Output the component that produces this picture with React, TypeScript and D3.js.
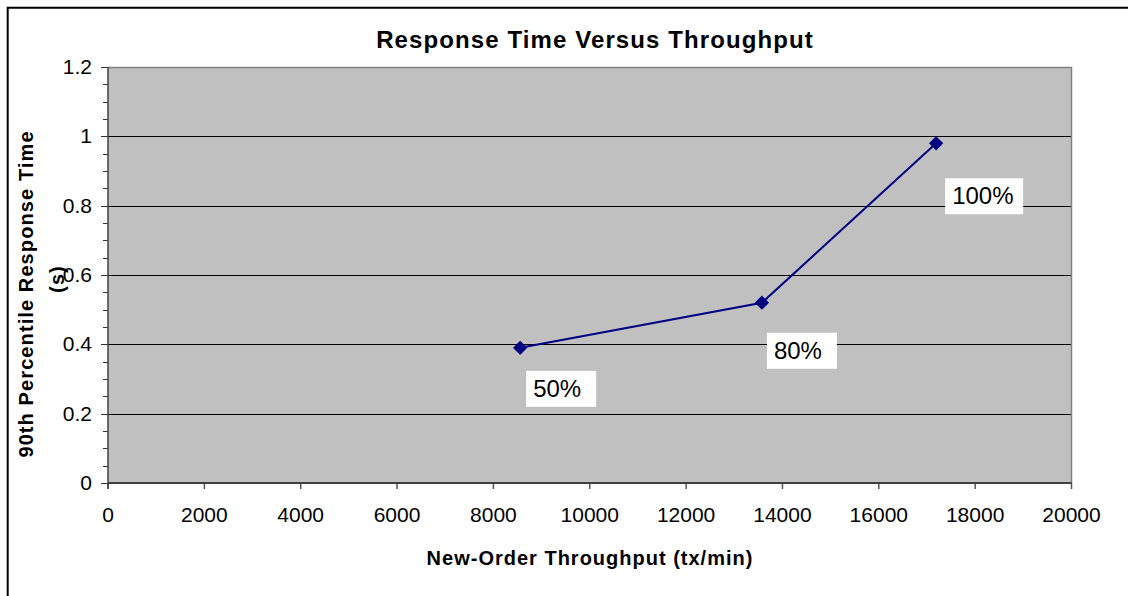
// @ts-nocheck
import * as d3 from "d3"
import { useEffect, useRef } from "react"
import * as React from "react"

const throughput = [8555, 13574, 17190]
const responseTime = [0.39, 0.52, 0.98]
const pointLabels = ["50%", "80%", "100%"]
const xTicks = [0, 2000, 4000, 6000, 8000, 10000, 12000, 14000, 16000, 18000, 20000]
const yTicks = [0, 0.2, 0.4, 0.6, 0.8, 1, 1.2]

// label box offsets relative to each point (layout, not data)
const labelOffsets = [[6, 23], [5, 30], [9, 35]]

const W = 1129
const H = 596
const plot = { left: 108, right: 1071.5, top: 67, bottom: 483 }
const FONT = "Arial, 'Liberation Sans', sans-serif"

function buildSVG(node: SVGSVGElement) {
  const svg = d3.select(node)
  svg.selectAll("*").remove()

  const x = d3.scaleLinear().domain([0, 20000]).range([plot.left, plot.right])
  const y = d3.scaleLinear().domain([0, 1.2]).range([plot.bottom, plot.top])

  svg.append("rect").attr("width", W).attr("height", H).attr("fill", "#fff")

  // outer chart border (only top/left visible in the frame)
  svg.append("path")
    .attr("d", `M7.7,${H}V7.7H${W - 1}`)
    .attr("fill", "none").attr("stroke", "#000").attr("stroke-width", 2)

  svg.append("rect")
    .attr("x", plot.left).attr("y", plot.top)
    .attr("width", plot.right - plot.left).attr("height", plot.bottom - plot.top)
    .attr("fill", "#c0c0c0")

  // gridlines
  svg.append("g").selectAll("line")
    .data(yTicks.filter(t => t > 0 && t < 1.2))
    .join("line")
    .attr("x1", plot.left).attr("x2", plot.right)
    .attr("y1", d => Math.round(y(d)) + 0.5).attr("y2", d => Math.round(y(d)) + 0.5)
    .attr("stroke", "#000").attr("stroke-width", 1)

  // plot border top/right
  svg.append("path")
    .attr("d", `M${plot.left},${plot.top + 0.5}H${plot.right}V${plot.bottom}`)
    .attr("fill", "none").attr("stroke", "#808080").attr("stroke-width", 1.5)

  // y axis ticks (major + minor)
  const minor = d3.range(0, 1.2001, 0.05)
  svg.append("g").selectAll("line")
    .data(minor)
    .join("line")
    .attr("x1", d => (Math.abs(d * 5 - Math.round(d * 5)) < 1e-6 ? plot.left - 7 : plot.left - 5))
    .attr("x2", plot.left)
    .attr("y1", d => Math.round(y(d)) + 0.5).attr("y2", d => Math.round(y(d)) + 0.5)
    .attr("stroke", "#333").attr("stroke-width", 1)

  svg.append("g").selectAll("text")
    .data(yTicks)
    .join("text")
    .attr("x", 92).attr("y", d => y(d) + 7)
    .attr("text-anchor", "end")
    .style("font-family", FONT).style("font-size", "21px").attr("fill", "#000")
    .text(d => d3.format("~g")(d))

  // x axis
  svg.append("g").selectAll("line")
    .data(xTicks)
    .join("line")
    .attr("x1", d => x(d)).attr("x2", d => x(d))
    .attr("y1", plot.bottom).attr("y2", plot.bottom + 6)
    .attr("stroke", "#555").attr("stroke-width", 1.5)

  svg.append("g").selectAll("text")
    .data(xTicks)
    .join("text")
    .attr("x", d => x(d)).attr("y", 522)
    .attr("text-anchor", "middle")
    .style("font-family", FONT).style("font-size", "21px").attr("fill", "#000")
    .text(d => String(d))

  svg.append("line")
    .attr("x1", plot.left).attr("x2", plot.left)
    .attr("y1", plot.top).attr("y2", plot.bottom + 6)
    .attr("stroke", "#404040").attr("stroke-width", 1.5)
  svg.append("line")
    .attr("x1", plot.left).attr("x2", plot.right)
    .attr("y1", plot.bottom).attr("y2", plot.bottom)
    .attr("stroke", "#404040").attr("stroke-width", 2)

  // series
  const pts = throughput.map((t, i) => [t, responseTime[i]])
  svg.append("path")
    .datum(pts)
    .attr("d", d3.line().x(d => x(d[0])).y(d => y(d[1])))
    .attr("fill", "none").attr("stroke", "#000080").attr("stroke-width", 2)

  svg.append("g").selectAll("path")
    .data(pts)
    .join("path")
    .attr("transform", d => `translate(${x(d[0])},${y(d[1])})`)
    .attr("d", d3.symbol(d3.symbolDiamond2, 130))
    .attr("fill", "#000080")

  // data labels
  const lab = svg.append("g").selectAll("g")
    .data(pts)
    .join("g")
    .attr("transform", (d, i) => `translate(${x(d[0]) + labelOffsets[i][0]},${y(d[1]) + labelOffsets[i][1]})`)
  lab.append("rect")
    .attr("width", (d, i) => pointLabels[i].length * 8 + 46)
    .attr("height", 36)
    .attr("fill", "#fff")
  lab.append("text")
    .attr("x", 7).attr("y", 26)
    .style("font-family", FONT).style("font-size", "24px").attr("fill", "#000")
    .text((d, i) => pointLabels[i])

  // titles
  svg.append("text")
    .attr("x", 595).attr("y", 48)
    .attr("text-anchor", "middle")
    .style("font-family", FONT).style("font-size", "24px").style("font-weight", "bold")
    .style("letter-spacing", "1.1px")
    .text("Response Time Versus Throughput")

  svg.append("text")
    .attr("x", 590).attr("y", 565)
    .attr("text-anchor", "middle")
    .style("font-family", FONT).style("font-size", "20px").style("font-weight", "bold")
    .style("letter-spacing", "1px")
    .text("New-Order Throughput (tx/min)")

  const yt = svg.append("text")
    .attr("transform", "rotate(-90)")
    .attr("text-anchor", "middle")
    .style("font-family", FONT).style("font-size", "20px").style("font-weight", "bold")
    .style("letter-spacing", "1.1px")
  yt.append("tspan").attr("x", -294).attr("y", 33).text("90th Percentile Response Time")
  yt.append("tspan").attr("x", -279).attr("y", 64).text("(s)")
}

export default function App() {
  const ref = useRef<SVGSVGElement>(null)
  useEffect(() => {
    buildSVG(ref.current)
  }, [])
  return (
    <svg ref={ref} width={W} height={H}
      style={{ position: "absolute", left: 0, top: 0, display: "block" }} />
  )
}
